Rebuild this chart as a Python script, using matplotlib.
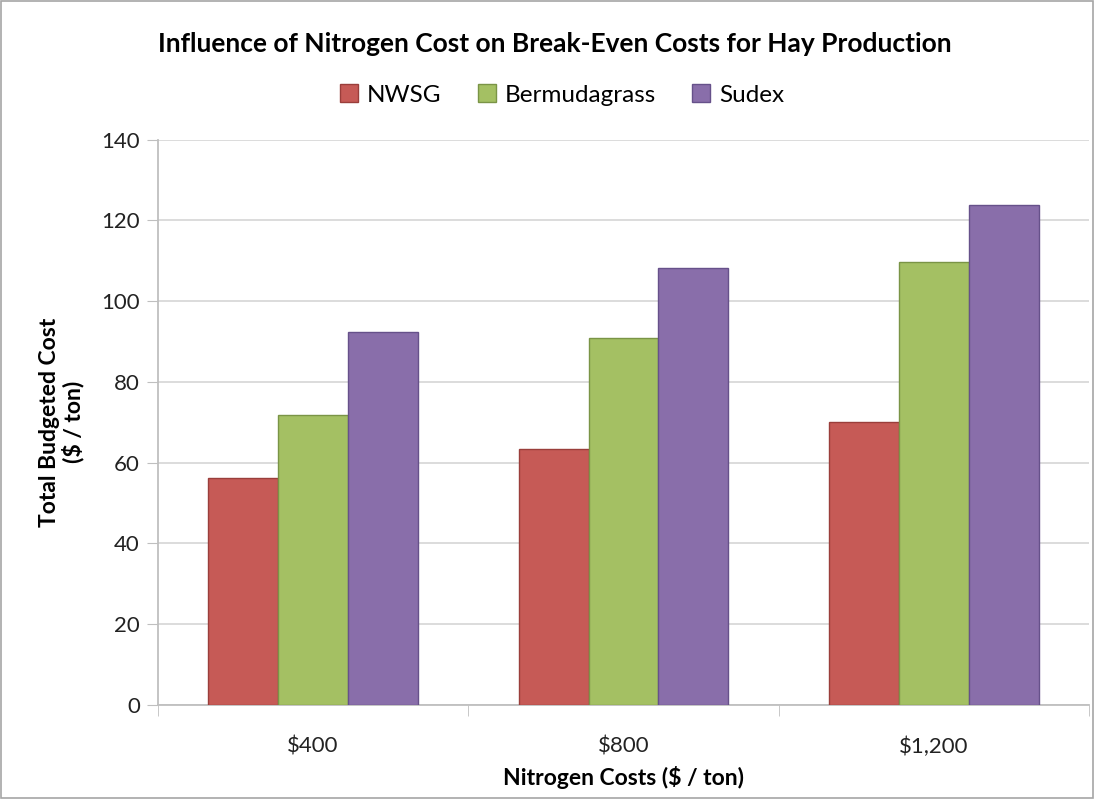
import matplotlib
matplotlib.use("Agg")
import matplotlib.pyplot as plt
import numpy as np
from matplotlib.patches import Rectangle

categories = ["$400", "$800", "$1,200"]
series_names = ["NWSG", "Bermudagrass", "Sudex"]
nwsg = [56.3, 63.3, 70.1]
bermudagrass = [71.8, 90.9, 109.7]
sudex = [92.3, 108.2, 123.7]
yticks = [0, 20, 40, 60, 80, 100, 120, 140]

fills = ["#C65A56", "#A4C063", "#896EAA"]
edges = ["#9A3E3B", "#7A9446", "#66518A"]

plt.rcParams['font.family'] = ['Lato', 'DejaVu Sans']

fig = plt.figure(figsize=(10.94, 7.99), dpi=100)
fig.patches.append(Rectangle((0.001, 0.001), 0.998, 0.998, transform=fig.transFigure,
                             fill=False, edgecolor="#A6A6A6", linewidth=1.2))
ax = fig.add_axes([158/1094, 1-705/799, (1089-158)/1094, (705-139.5)/799])

x = np.arange(len(categories))
w = 0.225
for i, (vals, name) in enumerate(zip([nwsg, bermudagrass, sudex], series_names)):
    ax.bar(x + (i-1)*w, vals, width=w, color=fills[i], edgecolor=edges[i],
           linewidth=1.0, label=name, zorder=3)

ax.set_xlim(-0.5, len(categories)-0.5)
ax.set_ylim(0, 140)
ax.set_yticks(yticks)
ax.set_yticklabels([str(v) for v in yticks], fontsize=16, color="#222222")
ax.set_xticks(x)
ax.set_xticklabels(categories, fontsize=16, color="#222222")
ax.tick_params(axis='x', length=0, pad=23)
ax.set_xticks(np.arange(-0.5, len(categories)), minor=True)
ax.tick_params(axis='x', which='minor', length=8, color="#BFBFBF", direction='out')
ax.tick_params(axis='y', length=8, color="#BFBFBF", direction='out', pad=5)
ax.grid(axis='y', color="#D9D9D9", linewidth=1.3, zorder=0)
for s in ['top', 'right']:
    ax.spines[s].set_visible(False)
for s in ['left', 'bottom']:
    ax.spines[s].set_color("#BFBFBF")
    ax.spines[s].set_linewidth(1.3)

ax.set_xlabel("Nitrogen Costs ($ / ton)", fontsize=16.5, fontweight='bold', labelpad=6)
ax.set_ylabel("Total Budgeted Cost\n($ / ton)", fontsize=16.5, fontweight='bold', labelpad=12,
              linespacing=1.1)

fig.text(555/1094, 1-44/799, "Influence of Nitrogen Cost on Break-Even Costs for Hay Production",
         ha='center', va='center', fontsize=19, fontweight='bold')
fig.legend(loc='center', bbox_to_anchor=(562/1094, 1-95/799), ncol=3, frameon=False,
           fontsize=17.5, handlelength=0.75, handleheight=0.75, columnspacing=1.5, handletextpad=0.35)

fig.savefig("out.png", dpi=100)
